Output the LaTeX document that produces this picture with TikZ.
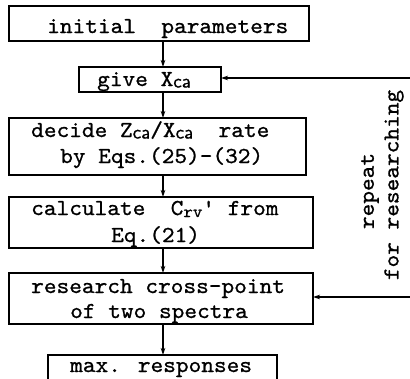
\documentclass[tikz,border=0pt]{standalone}
\usepackage{fontspec}
\newfontfamily\tw{lmmono10-regular.otf}[FakeStretch=1.06,FakeBold=0.9]
\newfontfamily\swf{lmsans10-regular.otf}[FakeBold=0.8]
\usetikzlibrary{arrows.meta}
\newcommand\sbs[1]{\raisebox{-1.5pt}{\swf\fontsize{19}{19}\selectfont #1}}
\newcommand\sbr[1]{\raisebox{-2pt}{\tw\fontsize{17}{17}\selectfont #1}}
\begin{document}
\begin{tikzpicture}[x=1pt,y=-1pt,
  box/.style={draw, line width=1.2pt, inner sep=0pt, outer sep=0pt},
  txt/.style={font=\tw\fontsize{22.8}{26}\selectfont, inner sep=0pt, anchor=base west},
  vtxt/.style={font=\tw\fontsize{22.8}{26}\selectfont, inner sep=0pt, rotate=90},
  arr/.style={line width=1.2pt, -{Stealth[length=7pt,width=4.5pt]}}]
\useasboundingbox (0,0) rectangle (410,378);
\clip (0,0) rectangle (410,378);
% boxes
\node[box, minimum width=300pt, minimum height=35pt] (init) at (159,23.5) {};
\node[box, minimum width=142pt, minimum height=25pt] (give) at (150,79.5) {};
\node[box, minimum width=297pt, minimum height=57pt] (decide) at (157.5,146.5) {};
\node[box, minimum width=304pt, minimum height=51pt] (calc) at (161,222.5) {};
\node[box, minimum width=304pt, minimum height=51pt] (research) at (161,298.5) {};
\node[box, minimum width=229pt, minimum height=35pt] (max) at (162.5,372.5) {};
% texts
\node[txt] (t1) at (47,33) {initial~~parameters};
\node[txt] (t2) at (97,86) {give X\sbs{ca}};
\node[txt] (t3a) at (31,137) {decide Z\sbs{ca}/X\sbs{ca}~~rate};
\node[txt] (t3b) at (60,163) {by Eqs.(25)-(32)};
\node[txt] (t4a) at (31,215) {calculate~~C\sbr{rv}' from};
\node[txt] (t4b) at (111,242) {Eq.(21)};
\node[txt] (t5a) at (31,293) {research cross-point};
\node[txt] (t5b) at (70,318) {of two spectra};
\node[txt] (t6) at (70,372) {max. responses};
\node[vtxt] (rep) at (370,191) {repeat};
\node[vtxt] (forr) at (394,185) {for researching};
% connectors
\coordinate (col) at (163,0);
\draw[arr] (init.south -| col) -- (give.north -| col);
\draw[arr] (give.south -| col) -- (decide.north -| col);
\draw[arr] (decide.south -| col) -- (calc.north -| col);
\draw[arr] (calc.south -| col) -- (research.north -| col);
\draw[arr] (research.south -| col) -- (max.north -| col);
\coordinate (r1) at (410,78);
\coordinate (r2) at (410,297);
\draw[arr] (r1) -- (r1 -| give.east);
\draw[arr] (r2) -- (r2 -| research.east);
\end{tikzpicture}
\end{document}
